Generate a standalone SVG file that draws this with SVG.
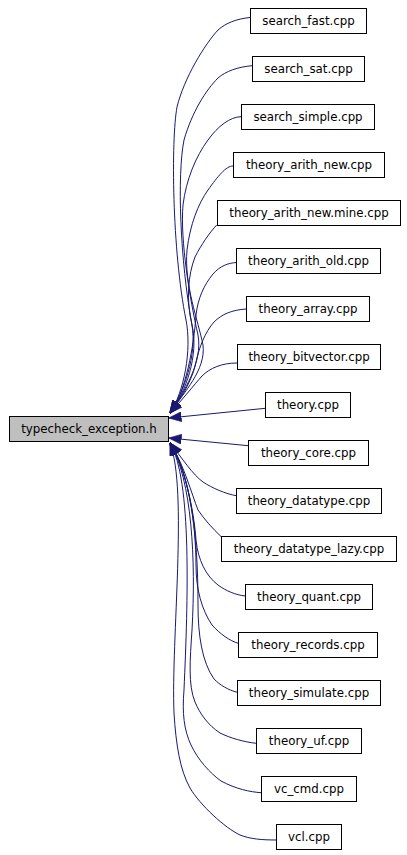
<svg xmlns="http://www.w3.org/2000/svg" width="407" height="855" viewBox="0 0 407 855">
<style>
.n rect{fill:#fff;stroke:#000;stroke-width:1}
.main rect{fill:#bfbfbf}
text{font-family:"DejaVu Sans",Verdana,sans-serif;font-size:11.8px;text-anchor:middle;fill:#000}
.e path{fill:none;stroke:#191970;stroke-width:1;marker-end:url(#arr)}
</style>
<defs>
<marker id="arr" markerUnits="userSpaceOnUse" markerWidth="13" markerHeight="10" viewBox="0 0 13 10" refX="12.5" refY="5" orient="auto">
<path d="M0,0 L13,5 L0,10 z" fill="#191970" stroke="#191970" stroke-width="0.5"/>
</marker>
</defs>
<g id="edges" class="e">
<path d="M250,17.5 C236,19 226,23 218,30 C205,44 184,78 177,107 C171,140 172,250 186,320 C192,350 184,392 170,413"/>
<path d="M252,65.7 C238,67 226,71 218,78 C206,90 192,112 184,140 C177,175 180,260 192,325 C197,355 184,392 170,413"/>
<path d="M241,116.7 C230,117 218,126 208,140 C196,156 186,180 183,205 C180,240 190,300 198,335 C203,362 184,392 170,413"/>
<path d="M233,166 C226,166 218,176 208,190 C198,204 190,225 187,250 C184,285 198,320 203,345 C206,370 184,392 170,413"/>
<path d="M216.7,225 C210,232 201,245 195,257 C188,275 186,300 192,325 C199,355 186,392 170,413"/>
<path d="M236.7,262.5 C228,263 220,266 213,274 C204,285 198,298 196,315 C194,345 186,392 170,413"/>
<path d="M246,309 C232,310 222,314 214,322 C205,332 199,348 196,362 C193,377 184,395 170,413"/>
<path d="M237,363 C222,363 210,368 202,376 C194,385 182,400 170,413"/>
<path d="M265.3,408.3 L169,418"/>
<path d="M248.3,445.7 L169,438"/>
<path d="M236.3,495.7 C226,494 212,488 203,482 C193,475 182,458 170,443"/>
<path d="M221,536.5 C213,529 204,519 198,510 C192,495 183,462 170,443"/>
<path d="M245.3,596 C236,595 226,591 218,585 C206,576 198,560 196,540 C194,510 184,464 170,443"/>
<path d="M238.3,643.3 C230,641 220,634 212,625 C202,610 196,590 196,565 C196,525 188,470 170,443"/>
<path d="M237.3,692.3 C228,690 220,685 214,679 C202,662 198,635 198,605 C198,530 190,475 170,443"/>
<path d="M256.3,743.3 C244,742 230,738 220,733 C208,725 200,714 195,702 C188,685 190,660 192,630 C196,560 192,480 170,443"/>
<path d="M261.3,792.7 C250,792 236,789 221,781 C210,773 198,760 191,745 C184,730 182,713 184,690 C188,600 192,480 170,443"/>
<path d="M276.3,840 C262,840 250,839 240,835 C225,828 200,805 190,788 C180,770 176,745 174,713 C171,640 188,490 170,443"/>
</g>
<g id="typecheck_exception_h" class="n main"><rect x="9.5" y="416.5" width="159" height="25"/><text x="89" y="433.3">typecheck_exception.h</text></g>
<g id="search_fast" class="n"><rect x="250.5" y="8.5" width="116" height="25"/><text x="308.5" y="25">search_fast.cpp</text></g>
<g id="search_sat" class="n"><rect x="252.5" y="56.5" width="112" height="25"/><text x="308.5" y="73">search_sat.cpp</text></g>
<g id="search_simple" class="n"><rect x="241.5" y="104.5" width="133" height="25"/><text x="308" y="121">search_simple.cpp</text></g>
<g id="theory_arith_new" class="n"><rect x="233.5" y="152.5" width="151" height="25"/><text x="309" y="169">theory_arith_new.cpp</text></g>
<g id="theory_arith_new_mine" class="n"><rect x="217.5" y="200.5" width="183" height="25"/><text x="309" y="217">theory_arith_new.mine.cpp</text></g>
<g id="theory_arith_old" class="n"><rect x="236.5" y="248.5" width="144" height="25"/><text x="308.5" y="265">theory_arith_old.cpp</text></g>
<g id="theory_array" class="n"><rect x="246.5" y="296.5" width="123" height="25"/><text x="308" y="313">theory_array.cpp</text></g>
<g id="theory_bitvector" class="n"><rect x="237.5" y="344.5" width="143" height="25"/><text x="309" y="361">theory_bitvector.cpp</text></g>
<g id="theory" class="n"><rect x="265.5" y="392.5" width="85" height="25"/><text x="308" y="409">theory.cpp</text></g>
<g id="theory_core" class="n"><rect x="248.5" y="440.5" width="120" height="25"/><text x="308.5" y="457">theory_core.cpp</text></g>
<g id="theory_datatype" class="n"><rect x="236.5" y="488.5" width="145" height="25"/><text x="309" y="505">theory_datatype.cpp</text></g>
<g id="theory_datatype_lazy" class="n"><rect x="221.5" y="536.5" width="175" height="25"/><text x="309" y="553">theory_datatype_lazy.cpp</text></g>
<g id="theory_quant" class="n"><rect x="245.5" y="584.5" width="127" height="25"/><text x="309" y="601">theory_quant.cpp</text></g>
<g id="theory_records" class="n"><rect x="238.5" y="632.5" width="139" height="25"/><text x="308" y="649">theory_records.cpp</text></g>
<g id="theory_simulate" class="n"><rect x="237.5" y="680.5" width="143" height="25"/><text x="309" y="697">theory_simulate.cpp</text></g>
<g id="theory_uf" class="n"><rect x="256.5" y="728.5" width="105" height="25"/><text x="309" y="745">theory_uf.cpp</text></g>
<g id="vc_cmd" class="n"><rect x="261.5" y="776.5" width="95" height="25"/><text x="309" y="793">vc_cmd.cpp</text></g>
<g id="vcl" class="n"><rect x="276.5" y="824.5" width="65" height="25"/><text x="309" y="841">vcl.cpp</text></g>
</svg>
